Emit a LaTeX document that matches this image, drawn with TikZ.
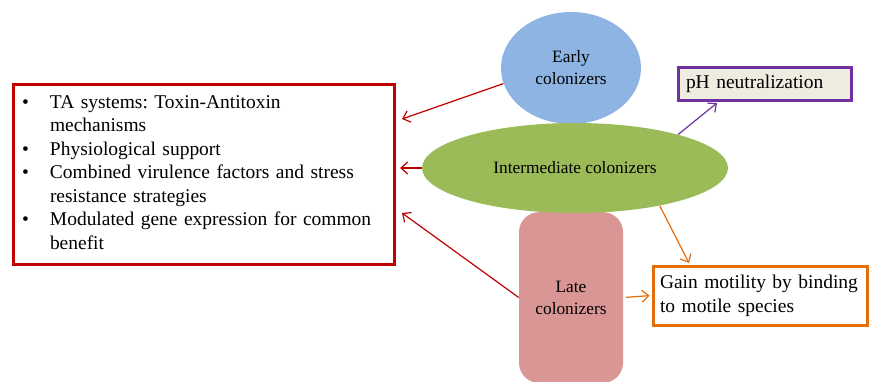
\documentclass[tikz,border=0pt]{standalone}
\usepackage{fontspec}
\setmainfont{Liberation Serif}
\frenchspacing
\usetikzlibrary{shapes,shapes.geometric,arrows.meta,calc,positioning}
\definecolor{earlyblue}{HTML}{8EB4E3}
\definecolor{midgreen}{HTML}{9BBB59}
\definecolor{latepink}{HTML}{D99694}
\definecolor{boxred}{HTML}{C00000}
\definecolor{boxpurple}{HTML}{7030A0}
\definecolor{boxorange}{HTML}{E46C0A}
\definecolor{boxbeige}{HTML}{EEECE1}

\begin{document}
\begin{tikzpicture}
	[x=0.75pt,y=-0.75pt,
	colonizer/.style={shape=ellipse,draw=none,align=center,inner sep=0pt,
	font=\fontsize{13}{16.5}\selectfont},
	infobox/.style={shape=rectangle,line width=2.25pt,align=left,
	font=\fontsize{14.6}{18}\selectfont},
	arr/.style={line width=0.9pt,-{Straight Barb[length=5pt,width=9pt]}}]
	\useasboundingbox (0,0) rectangle (869,382);

	\node[shape=rectangle,rounded corners=15pt,fill=latepink,minimum width=78pt,
	minimum height=128pt,font=\fontsize{13}{16.5}\selectfont,align=center]
	(late) at (571,297.5) {Late\\colonizers};
	\node[colonizer,fill=earlyblue,minimum width=105pt,minimum height=84pt]
	(early) at (571,68) {Early\\colonizers};
	\node[colonizer,fill=midgreen,minimum width=229.5pt,minimum height=67.5pt]
	(mid) at (575,168) {Intermediate colonizers};

	\node[infobox,draw=boxred,minimum height=135pt,inner xsep=6.75pt,
	text width=272.25pt,font=\fontsize{14.6}{17.6}\selectfont]
	(list) at (203.5,174) {\begin{tabular}{@{}p{21pt}@{}l@{}}
		\textbullet & TA systems: Toxin-Antitoxin\\
		& mechanisms\\
		\textbullet & Physiological support\\
		\textbullet & Combined virulence factors and stress\\
		& resistance strategies\\
		\textbullet & Modulated gene expression for common\\
		& benefit
	\end{tabular}};
	\node[infobox,draw=boxpurple,fill=boxbeige,minimum height=24.75pt,
	inner xsep=6pt,text width=117.75pt] (ph) at (764.5,83.5) {pH neutralization};
	\node[infobox,draw=boxorange,minimum height=44.25pt,inner xsep=5.25pt,
	text width=150pt] (gain) at (760,295.5) {Gain motility by binding\\to motile species};

	\coordinate (tipA) at (402,119);
	\coordinate (tipC) at (402,213);
	\coordinate (tipD) at (717,103);
	\coordinate (tipE) at (689,263);

	\draw[arr,boxred] (early.193) -- (tipA);
	\draw[arr,boxred,shorten >=3.5pt] (mid.west) -- (mid.west -| list.east);
	\draw[arr,boxred] (late.west) -- (tipC);
	\draw[arr,boxpurple] (mid.18) -- (tipD);
	\draw[arr,boxorange] (mid.-24) -- (tipE);
	\draw[arr,boxorange,shorten <=2pt,shorten >=1.5pt] (late.east) -- (gain.west);
\end{tikzpicture}
\end{document}
